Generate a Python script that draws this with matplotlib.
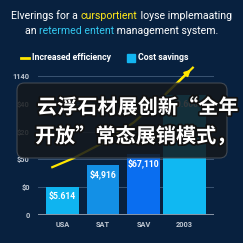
import matplotlib
matplotlib.use("Agg")
import matplotlib.pyplot as plt
from matplotlib.patches import FancyBboxPatch, Rectangle
from matplotlib.lines import Line2D
import matplotlib.patheffects as pe

plt.rcParams['font.family'] = ['Roboto', 'Noto Sans CJK SC', 'DejaVu Sans']

# data
categories = ['USA', 'SAT', 'SAV', '2003']
savings = [1.0, 1.8, 2.19, 4.3]
bar_labels = ['$5.614', '$4,916', '$67,110', '$0.600']
ytick_labels = ['0', '$0', '$50', '$20', '$40', '1140']
line_x = [-0.25, 0.25, 1.0, 1.75, 2.5, 3.2]
line_y = [1.72, 2.03, 2.6, 3.33, 4.3, 5.3]

title1 = [('Elverings for a ', 'white'), ('cursportient', '#ffe81a'), (' loyse implemaating', 'white')]
title2 = [('an ', 'white'), ('retermed entent', '#33c8f0'), (' management system.', 'white')]
caption = ['云浮石材展创新“全年', '开放”常态展销模式，']

bg = '#08213f'
bar_colors = ['#0fb4f0', '#1390e6', '#0a6ef0', '#10b8f2']
bar_widths = [0.79, 0.79, 0.81, 1.06]

W = H = 243
fig = plt.figure(figsize=(2.43, 2.43), dpi=100, facecolor=bg)
bottom = (H - 215) / H
top = (H - (215 - 5.3 * 27.8)) / H
ax = fig.add_axes([38 / W, bottom, (214 - 38) / W, top - bottom])
ax.set_facecolor(bg)
for s in ax.spines.values():
    s.set_visible(False)

xs = list(range(len(categories)))
for y in range(1, 6):
    ax.axhline(y, color='#3a5472', lw=0.7, zorder=0)
ax.axhline(0, color='#8a96a6', lw=1.4, zorder=3)

ax.bar(xs, savings, width=bar_widths, color=bar_colors, zorder=2)
for x, v, lab in zip(xs, savings, bar_labels):
    ax.text(x, v - 0.33, lab, ha='center', va='center', color='white',
            fontsize=6.2, fontweight='bold', zorder=4)

ax.plot(line_x, line_y, color='#ffe600', lw=1.6, zorder=5, clip_on=False)
ax.annotate('', xy=(line_x[-1], line_y[-1]), xytext=(line_x[-2], line_y[-2]),
            arrowprops=dict(arrowstyle='-|>', color='#ffe600', lw=1.6, mutation_scale=8),
            annotation_clip=False, zorder=5)

ax.set_xlim(-0.6, 3.72)
ax.set_ylim(0, 5.3)
ax.set_yticks(range(6))
ax.set_yticklabels(ytick_labels)
ax.set_xticks(xs)
ax.set_xticklabels(categories)
ax.tick_params(length=0, colors='#c0c8d2', labelsize=5.3, pad=6)
ax.tick_params(axis='x', pad=4)
for t in ax.get_yticklabels() + ax.get_xticklabels():
    t.set_fontweight('bold')

# title with coloured words
fig.canvas.draw()
renderer = fig.canvas.get_renderer()

def colored_line(parts, yc, size):
    texts = []
    for s, c in parts:
        texts.append(fig.text(0, yc, s, color=c, fontsize=size, va='center', ha='left'))
    widths = [t.get_window_extent(renderer).width for t in texts]
    x = (W / 2 - sum(widths) / 2)
    for t, w in zip(texts, widths):
        t.set_x(x / W)
        x += w

colored_line(title1, (H - 16) / H, 7.6)
colored_line(title2, (H - 31) / H, 7.6)

# legend
fig.add_artist(Line2D([21 / W, 29 / W], [(H - 58) / H] * 2, color='#ffe600', lw=2))
fig.text(32 / W, (H - 58) / H, 'Increased efficiency', color='white', fontsize=6.3,
         fontweight='bold', va='center')
fig.add_artist(Rectangle((127 / W, (H - 62) / H), 8 / W, 8 / H, color='#13b5f0'))
fig.text(138 / W, (H - 58) / H, 'Cost savings', color='white', fontsize=6.3,
         fontweight='bold', va='center')

# dark caption overlay
box = FancyBboxPatch((17 / W, (H - 158) / H), 210 / W, 75 / H,
                     boxstyle='round,pad=0,rounding_size=0.03',
                     transform=fig.transFigure, facecolor='#14181c', alpha=0.86,
                     edgecolor='#4a5058', lw=0.8, zorder=10)
fig.add_artist(box)
stroke = [pe.withStroke(linewidth=2.5, foreground='#111111')]
fig.text(37 / W, (H - 107) / H, caption[0], color='white', fontsize=14.5, fontweight='bold',
         family=['Noto Sans CJK SC', 'DejaVu Sans'], va='center', zorder=11, path_effects=stroke)
fig.text(35 / W, (H - 136) / H, caption[1], color='white', fontsize=14.5, fontweight='bold',
         family=['Noto Sans CJK SC', 'DejaVu Sans'], va='center', zorder=11, path_effects=stroke)

fig.savefig('out.png', dpi=100, facecolor=bg)
